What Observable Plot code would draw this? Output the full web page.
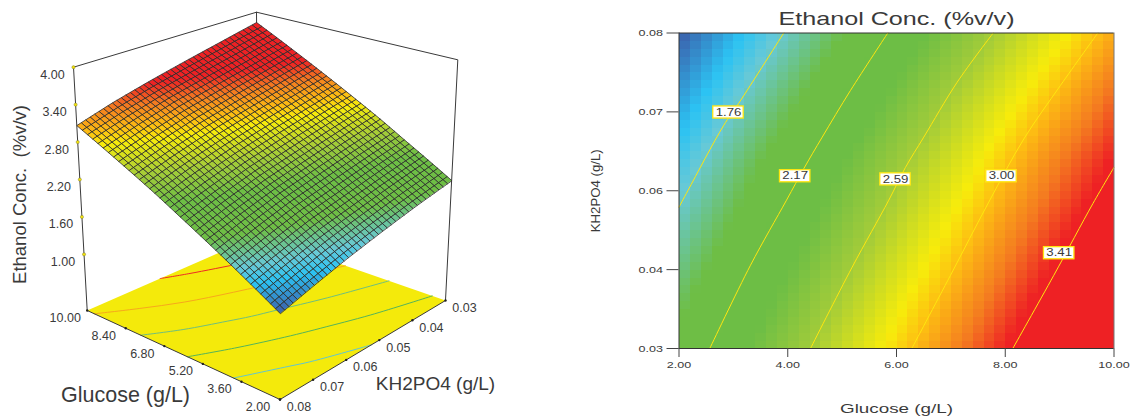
<!DOCTYPE html>
<html>
<head>
<meta charset="utf-8">
<style>
html,body{margin:0;padding:0;background:#fff;}
#chart{display:flex;width:1130px;height:416px;overflow:hidden;}
svg{display:block;}
</style>
<script src="https://cdn.jsdelivr.net/npm/d3@7"></script>
<script src="https://cdn.jsdelivr.net/npm/@observablehq/plot@0.6"></script>
</head>
<body>
<div id="chart"></div>
<script>
// --- values ---
const glucoseNodes = [2, 3, 4, 5, 6, 7, 8, 9, 10];
const kh2po4Nodes = [0.03, 0.04, 0.05, 0.06, 0.07, 0.08];
const ethanolK003 = [2.045, 2.266, 2.487, 2.718, 2.938, 3.159, 3.379, 3.600, 3.820];
const ethanolK004 = [1.923, 2.141, 2.359, 2.587, 2.805, 3.023, 3.239, 3.456, 3.673];
const ethanolK005 = [1.790, 2.008, 2.225, 2.452, 2.670, 2.890, 3.106, 3.320, 3.533];
const ethanolK006 = [1.652, 1.877, 2.102, 2.317, 2.536, 2.752, 2.971, 3.189, 3.390];
const ethanolK007 = [1.501, 1.720, 1.939, 2.158, 2.374, 2.599, 2.810, 3.025, 3.238];
const ethanolK008 = [1.347, 1.561, 1.776, 1.990, 2.204, 2.425, 2.637, 2.850, 3.064];

const contour176G = [3.927, 3.094, 2.818, 2.162, 2];
const contour176K = [0.08, 0.0688, 0.0653, 0.055, 0.0524];
const contour217G = [5.84, 5.154, 4.634, 4.295, 3.977, 3.315, 2.566];
const contour217K = [0.08, 0.0709, 0.0635, 0.0585, 0.0535, 0.0432, 0.03];
const contour259G = [7.778, 7.116, 6.502, 6.165, 5.858, 5.185, 4.418];
const contour259K = [0.08, 0.0722, 0.0635, 0.0587, 0.0535, 0.0429, 0.03];
const contour300G = [9.702, 9.016, 8.341, 7.697, 6.993, 6.281];
const contour300K = [0.08, 0.0717, 0.0632, 0.0532, 0.0416, 0.03];
const contour341G = [10, 9.614, 8.893, 8.139];
const contour341K = [0.0587, 0.053, 0.0416, 0.03];

const contourLevels = ["1.76", "2.17", "2.59", "3.00", "3.41"];
const contourLabelG = [2.91, 4.137, 5.982, 7.931, 8.992];
const contourLabelK = [0.0674, 0.0573, 0.0568, 0.0573, 0.0451];
const floorContourColors = ["#62c6cf", "#55b45a", "#6fbf7e", "#f7a81c", "#ee2a24"];

const glucoseTicks = [2, 3.6, 5.2, 6.8, 8.4, 10];
const kh2po4Ticks3d = [0.03, 0.04, 0.05, 0.06, 0.07, 0.08];
const ethanolTicks = [1, 1.6, 2.2, 2.8, 3.4, 4];
const glucoseTicks2d = [2, 4, 6, 8, 10];
const kh2po4Ticks2d = [0.03, 0.0425, 0.055, 0.0675, 0.08];

const colorStops = [1.35, 1.60, 1.74, 2.0, 2.33, 2.59, 2.88, 3.0, 3.2, 3.38, 3.83];
const colorRamp = ["#3c5da9", "#2cc3f3", "#68c9d6", "#6ebe45", "#6dbe45", "#a3cc39", "#f7ec0b", "#fdbf12", "#f47b20", "#ee2124", "#ee2124"];

const fontFamily = "'Liberation Sans', Arial, sans-serif";
const textColor = "#3a3a3a";
const kh2po4Rows = [ethanolK003, ethanolK004, ethanolK005, ethanolK006, ethanolK007, ethanolK008];
const samples = kh2po4Rows.flatMap((row, j) =>
  row.map((v, i) => ({g: glucoseNodes[i], k: kh2po4Nodes[j], v})));
const contourSets = [
  [contour176G, contour176K], [contour217G, contour217K], [contour259G, contour259K],
  [contour300G, contour300K], [contour341G, contour341K]
];
const contourPoints = contourSets.flatMap(([gs, ks], c) =>
  gs.map((g, i) => ({g, k: ks[i], level: contourLevels[c], color: floorContourColors[c]})));
const colorScale = {type: "linear", domain: colorStops, range: colorRamp, clamp: true};

// --- reading the surface table between its nodes ---
function ethanolAt(g, k) {
  const fx = Math.min((g - 2) / 1, 7.999999), fy = Math.min((k - 0.03) / 0.01, 4.999999);
  const i = Math.floor(fx), j = Math.floor(fy), a = fx - i, b = fy - j;
  const r0 = kh2po4Rows[j], r1 = kh2po4Rows[j + 1];
  return (r0[i] * (1 - a) + r0[i + 1] * a) * (1 - b) + (r1[i] * (1 - a) + r1[i + 1] * a) * b;
}

// --- 3D view: box corners on the sheet, blended between them ---
function quadMap(p00, p10, p01, p11) {
  return (u, v) => [0, 1].map(c =>
    (p00[c] * (1 - u) + p10[c] * u) * (1 - v) + (p01[c] * (1 - u) + p11[c] * u) * v);
}
const floorMap = quadMap([279.5, 399], [86.7, 310], [445, 300], [258, 235]);
const topMap = quadMap([280, 130], [73, 66.7], [457.3, 59.3], [256, 11.7]);
function project(g, k, z) {
  const u = (g - 2) / 8, v = (0.08 - k) / 0.05, w = (z - 0.1) / 3.9;
  const f = floorMap(u, v), t = topMap(u, v);
  return [f[0] + (t[0] - f[0]) * w, f[1] + (t[1] - f[1]) * w];
}

const meshSteps = 40;
const meshCells = [];
for (let i = 0; i < meshSteps; i++) for (let j = 0; j < meshSteps; j++) {
  const g0 = 2 + 8 * i / meshSteps, g1 = 2 + 8 * (i + 1) / meshSteps;
  const k0 = 0.03 + 0.05 * j / meshSteps, k1 = 0.03 + 0.05 * (j + 1) / meshSteps;
  const value = ethanolAt((g0 + g1) / 2, (k0 + k1) / 2);
  for (const [g, k] of [[g0, k0], [g1, k0], [g1, k1], [g0, k1]]) {
    const [x, y] = project(g, k, ethanolAt(g, k));
    meshCells.push({id: i * meshSteps + j, x, y, value});
  }
}
const floorPoly = [[2, 0.08], [10, 0.08], [10, 0.03], [2, 0.03]].map(([g, k]) => {
  const [x, y] = project(g, k, 0.1); return {x, y};
});
const floorLines = contourPoints.map(d => {
  const [x, y] = project(d.g, d.k, 0.1); return {x, y, level: d.level, color: d.color};
});
const boxLines = [
  {id: "l", at: [10, 0.08, 0.1]}, {id: "l", at: [10, 0.08, 4]}, {id: "l", at: [10, 0.03, 4]},
  {id: "l", at: [2, 0.03, 4]}, {id: "l", at: [2, 0.03, 0.1]},
  {id: "b", at: [10, 0.03, 0.1]}, {id: "b", at: [10, 0.03, 4]},
  {id: "f", at: [10, 0.08, 0.1]}, {id: "f", at: [2, 0.08, 0.1]}, {id: "f", at: [2, 0.03, 0.1]}
].map(d => { const [x, y] = project(...d.at); return {id: d.id, x, y}; });
const glucoseTickPts = glucoseTicks.map(g => { const [x, y] = project(g, 0.08, 0.1); return {x, y, t: g.toFixed(2)}; });
const kTickPts = kh2po4Ticks3d.map(k => { const [x, y] = project(2, k, 0.1); return {x, y, t: k.toFixed(2)}; });
const zTickPts = ethanolTicks.map(z => { const [x, y] = project(10, 0.08, z); return {x, y, t: z.toFixed(2)}; });

const sheetW = 560, sheetH = 416;
const left = Plot.plot({
  width: sheetW, height: sheetH, margin: 0,
  x: {domain: [0, sheetW], range: [0, sheetW], axis: null},
  y: {domain: [0, sheetH], range: [0, sheetH], axis: null},
  color: colorScale,
  style: {fontFamily, background: "transparent", overflow: "visible"},
  marks: [
    Plot.line(floorPoly, {x: "x", y: "y", fill: "#f4ea0b", stroke: "none", curve: "linear-closed"}),
    Plot.line(floorLines, {x: "x", y: "y", z: "level", stroke: "color", strokeWidth: 1, curve: "catmull-rom"}),
    Plot.line(boxLines, {x: "x", y: "y", z: "id", stroke: "#3a3a3a", strokeWidth: 1}),
    Plot.line(meshCells, {x: "x", y: "y", z: "id", fill: "value", stroke: "#2b2b2b", strokeWidth: 0.8, curve: "linear-closed"}),
    Plot.dot(zTickPts, {x: "x", y: "y", r: 1.6, fill: "#f4e30b", stroke: "#6b6b2a", strokeWidth: 0.4}),
    Plot.dot(glucoseTickPts, {x: "x", y: "y", r: 1.2, fill: "#222"}),
    Plot.dot(kTickPts, {x: "x", y: "y", r: 1.2, fill: "#222"}),
    Plot.text(zTickPts, {x: "x", y: "y", text: "t", dx: -21, dy: 7.5, fontSize: 12.5, fill: textColor}),
    Plot.text(glucoseTickPts, {x: "x", y: "y", text: "t", dx: -22, dy: 7.5, fontSize: 12.5, fill: textColor}),
    Plot.text(kTickPts, {x: "x", y: "y", text: "t", dx: 19, dy: 7.5, fontSize: 12.5, fill: textColor}),
    Plot.text(["Ethanol Conc.  (%v/v)"], {frameAnchor: "top-left", dx: 12, dy: 194, rotate: -90, fontSize: 18.5, fill: textColor, textAnchor: "middle"}),
    Plot.text(["Glucose (g/L)"], {frameAnchor: "top-left", dx: 125, dy: 386, fontSize: 21.5, fill: textColor, textAnchor: "middle"}),
    Plot.text(["KH2PO4 (g/L)"], {frameAnchor: "top-left", dx: 435, dy: 376, fontSize: 19, fill: textColor, textAnchor: "middle"})
  ]
});

const labelBoxes = contourLevels.map((t, i) => ({t, g: contourLabelG[i], k: contourLabelK[i]}));
const right = Plot.plot({
  width: 570, height: 416,
  marginLeft: 118.5, marginRight: 16.5, marginTop: 32.5, marginBottom: 68,
  x: {domain: [2, 10]},
  y: {domain: [0.03, 0.08]},
  color: colorScale,
  style: {fontFamily, background: "transparent", overflow: "visible", color: "#333"},
  marks: [
    Plot.raster(samples, {x: "g", y: "k", fill: "v", x1: 2, x2: 10, y1: 0.03, y2: 0.08,
      width: 40, height: 40, interpolate: "barycentric", imageRendering: "pixelated"}),
    Plot.line(contourPoints, {x: "g", y: "k", z: "level", stroke: "#ffe60f", strokeWidth: 1, curve: "catmull-rom"}),
    Plot.ruleX([10], {stroke: "#777", strokeWidth: 1}),
    Plot.ruleY([0.03, 0.08], {stroke: "#333", strokeWidth: 1}),
    Plot.ruleX([2], {stroke: "#333", strokeWidth: 1}),
    Plot.rect(labelBoxes, {x1: d => d.g - 0.28, x2: d => d.g + 0.28, y1: d => d.k - 0.00096, y2: d => d.k + 0.00096,
      fill: "#fff", stroke: "#ffe60f", strokeWidth: 1.3}),
    Plot.text(labelBoxes, {x: "g", y: "k", text: "t", fontSize: 10, fill: textColor}),
    Plot.axisX({ticks: glucoseTicks2d, tickFormat: ".2f", tickSize: 9, tickPadding: 4, fontSize: 9.5, stroke: "#444", fill: textColor,
      label: "Glucose (g/L)", labelAnchor: "center", labelArrow: "none", labelOffset: 64}),
    Plot.axisY({ticks: kh2po4Ticks2d, tickFormat: ".2f", tickSize: 12, tickPadding: 4, fontSize: 9.5, stroke: "#444", fill: textColor,
      label: "KH2PO4 (g/L)", labelAnchor: "center", labelArrow: "none", labelOffset: 88}),
    Plot.text(["Ethanol Conc. (%v/v)"], {frameAnchor: "top", dy: -21, fontSize: 18.5, fill: textColor})
  ]
});

const root = document.getElementById("chart");
root.append(left, right);

// the right panel's lettering is drawn wide in the original
const exactLengths = {"Ethanol Conc. (%v/v)": 236, "Glucose (g/L)": 113, "KH2PO4 (g/L)": 83};
right.querySelectorAll("text").forEach(t => {
  const s = t.textContent.trim();
  if (s === "Glucose (g/L)" || s === "KH2PO4 (g/L)") t.style.fontSize = "12.5px";
  const len = exactLengths[s] || t.getComputedTextLength() * 1.32;
  t.setAttribute("lengthAdjust", "spacingAndGlyphs");
  t.setAttribute("textLength", len);
});
</script>
</body>
</html>
